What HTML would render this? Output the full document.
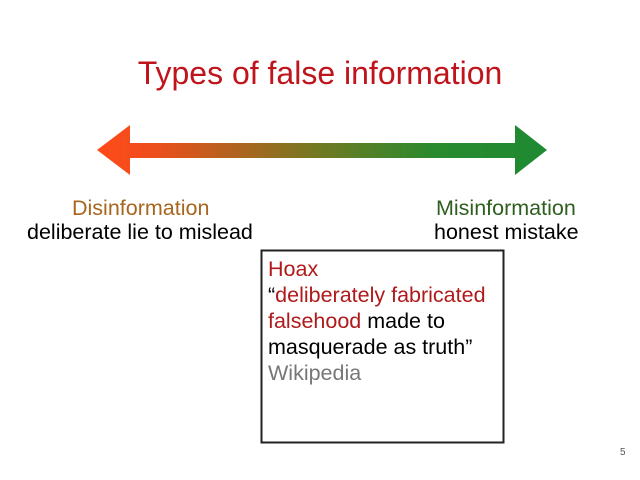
<!DOCTYPE html>
<html><head><style>
body{margin:0;width:640px;height:480px;background:#fff;position:relative;overflow:hidden;font-family:"Liberation Sans",Arial,sans-serif}
.t{position:absolute;white-space:nowrap}
</style></head><body>
<div class="t" style="left:0;width:640px;top:55px;text-align:center;font-size:32px;color:#c0141c">Types of false information</div>
<svg style="position:absolute;left:0;top:0" width="640" height="480">
<defs><linearGradient id="g" x1="97" x2="546" y1="0" y2="0" gradientUnits="userSpaceOnUse">
<stop offset="0" stop-color="#ff4a1a"/><stop offset="0.12" stop-color="#f04d1c"/><stop offset="0.5" stop-color="#6f7a22"/><stop offset="0.75" stop-color="#2a8a2e"/><stop offset="1" stop-color="#1e8a32"/></linearGradient></defs>
<polygon points="97,150 130,125 130,143 515,143 515,125 547,150 515,175 515,158 130,158 130,175" fill="url(#g)"/>
<rect x="261.5" y="250.5" width="242" height="192" fill="none" stroke="#222" stroke-width="2"/>
</svg>
<div class="t" style="left:72px;top:196px;font-size:21.5px;color:#a8651e">Disinformation</div>
<div class="t" style="left:27px;top:220px;font-size:21.5px;color:#000">deliberate lie to mislead</div>
<div class="t" style="left:436px;top:196px;font-size:21.5px;color:#2f5e1e">Misinformation</div>
<div class="t" style="left:434px;top:220px;font-size:21.5px;color:#000">honest mistake</div>
<div class="t" style="left:268px;top:256px;font-size:21.5px;line-height:26px;color:#000">
<span style="color:#b01a1a">Hoax</span><br>
“<span style="color:#b01a1a">deliberately fabricated</span><br>
<span style="color:#b01a1a">falsehood</span> made to<br>
masquerade as truth”<br>
<span style="color:#777">Wikipedia</span></div>
<div class="t" style="left:620px;top:447px;font-size:10px;color:#555">5</div>
</body></html>
